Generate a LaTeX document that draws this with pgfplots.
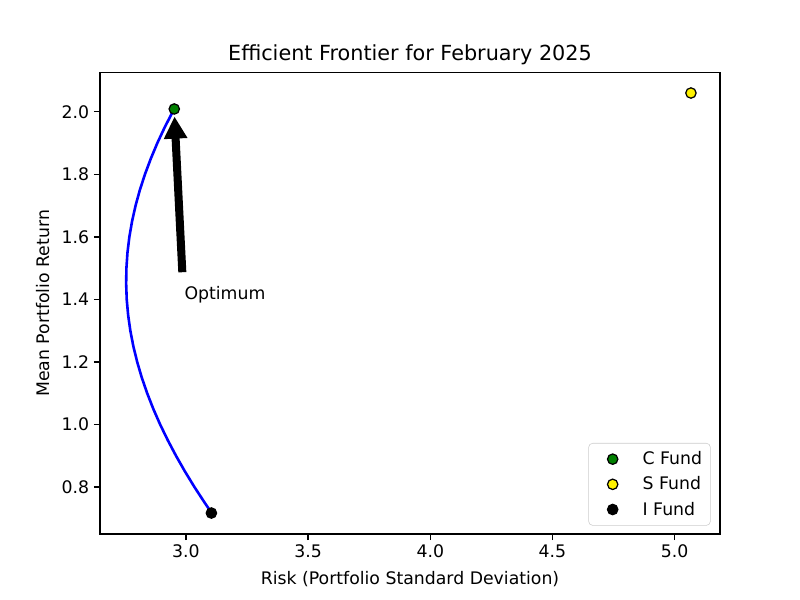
\documentclass[border=0pt]{standalone}
\usepackage{fontspec}
\setmainfont{DejaVu Sans}
\usepackage{pgfplots}
\pgfplotsset{compat=1.18}
\usetikzlibrary{arrows.meta}
\definecolor{mplgreen}{RGB}{0,128,0}
\begin{document}
\begin{tikzpicture}
\begin{axis}[
  scale only axis, width=6.2in, height=4.613in,
  xmin=2.648, xmax=5.186, ymin=0.65, ymax=2.125,
  xtick={3.0,3.5,4.0,4.5,5.0}, ytick={0.8,1.0,1.2,1.4,1.6,1.8,2.0},
  tick align=outside, tick pos=left, major tick length=4.4pt,
  tick style={black, line width=1pt},
  axis line style={line width=1pt},
  /pgf/number format/assume math mode=true,
  xticklabel style={/pgf/number format/.cd, fixed, fixed zerofill, precision=1},
  yticklabel style={/pgf/number format/.cd, fixed, fixed zerofill, precision=1},
  ticklabel style={font=\fontsize{12.5}{15}\selectfont},
  title={Efficient Frontier for February 2025},
  title style={font=\fontsize{15}{18}\selectfont, yshift=-4pt},
  xlabel={Risk (Portfolio Standard Deviation)},
  ylabel={Mean Portfolio Return},
  xlabel shift=3pt,
  ylabel shift=1.5pt,
  label style={font=\fontsize{12.5}{15}\selectfont},
  legend style={at={(0.985,0.018)}, anchor=south east, draw=black!20, rounded corners=3pt, fill=white, font=\fontsize{12.5}{15}\selectfont, row sep=3.2pt, inner sep=4pt,
    /tikz/every odd column/.style={column sep=15.9pt}},
  legend image code/.code={\path (-13.2pt,0pt) (0pt,0pt); \draw[#1] plot coordinates {(0pt,0pt)};},
  legend cell align=left,
]
\addplot[blue, line width=1.875pt, forget plot] coordinates {
(3.1055,0.717) (3.0766,0.75) (3.0348,0.80) (2.9957,0.85) (2.9592,0.90)
(2.9254,0.95) (2.8943,1.00) (2.8662,1.05) (2.8412,1.10) (2.8191,1.15)
(2.8003,1.20) (2.7846,1.25) (2.7722,1.30) (2.7632,1.35) (2.7574,1.40)
(2.7551,1.45) (2.7561,1.50) (2.7605,1.55) (2.7682,1.60) (2.7793,1.65)
(2.7936,1.70) (2.8112,1.75) (2.8320,1.80) (2.8559,1.85) (2.8827,1.90)
(2.9126,1.95) (2.9515,2.009)
};
\addplot[only marks, mark=*, mark size=3.75pt, mark options={fill=mplgreen, draw=black, line width=0.9pt}] coordinates {(2.952,2.009)};
\addlegendentry{C Fund}
\addplot[only marks, mark=*, mark size=3.75pt, mark options={fill=yellow, draw=black, line width=0.9pt}] coordinates {(5.067,2.06)};
\addlegendentry{S Fund}
\addplot[only marks, mark=*, mark size=3.75pt, mark options={fill=black, draw=black, line width=0.9pt}] coordinates {(3.104,0.717)};
\addlegendentry{I Fund}
\draw[line width=5.8pt, -{Triangle[width=16pt,length=16pt]}] (axis cs:2.985,1.487) -- (axis cs:2.953,1.985);
\node[anchor=base west, font=\fontsize{12.5}{15}\selectfont, inner sep=0pt] at (axis cs:2.993,1.40) {Optimum};
\end{axis}
\path (current axis.south west) ++(-1in,-0.66in) coordinate (bl);
\path (current axis.north east) ++(0.8in,0.727in) coordinate (tr);
\useasboundingbox (bl) rectangle (tr);
\end{tikzpicture}
\end{document}
